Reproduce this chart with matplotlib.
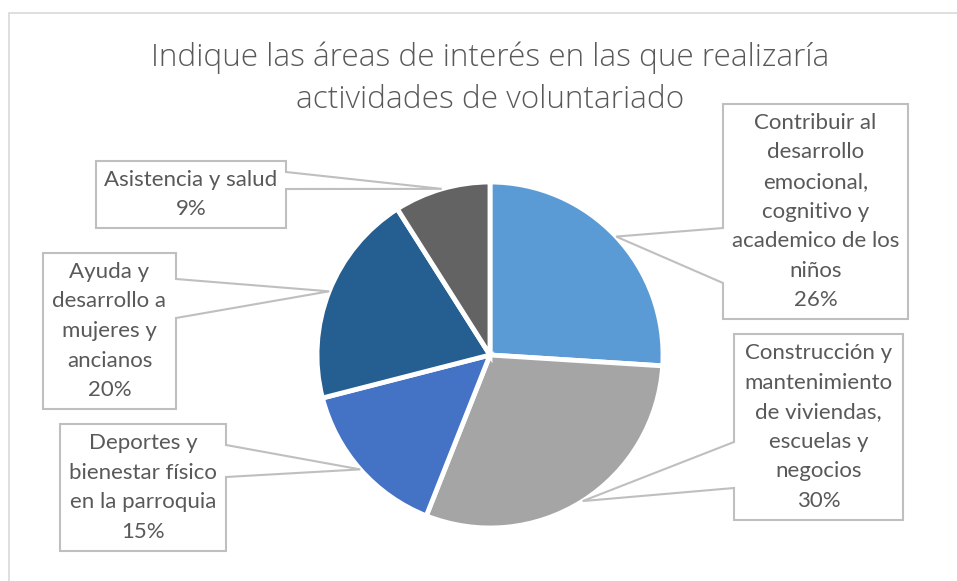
import numpy as np
import matplotlib
matplotlib.use("Agg")
import matplotlib.pyplot as plt
from matplotlib.patches import Polygon, Rectangle

plt.rcParams['font.family'] = ['Lato', 'DejaVu Sans']

# data
labels = [
    "Contribuir al\ndesarrollo\nemocional,\ncognitivo y\nacademico de los\nniños",
    "Construcción y\nmantenimiento\nde viviendas,\nescuelas y\nnegocios",
    "Deportes y\nbienestar físico\nen la parroquia",
    "Ayuda y\ndesarrollo a\nmujeres y\nancianos",
    "Asistencia y salud",
]
values = [26, 30, 15, 20, 9]
colors = ["#5B9BD5", "#A5A5A5", "#4472C4", "#255E91", "#636363"]

title = "Indique las áreas de interés en las que realizaría\nactividades de voluntariado"

# callout boxes in pixel coords: x0, y0 (top), x1, y1 (bottom), side, attach y's
boxes = [
    (723, 104, 908, 319, "left", 228, 283),
    (734, 334, 903, 520, "left", 442, 488),
    (60, 424, 226, 551, "right", 445, 477),
    (43, 253, 176, 409, "right", 279, 318),
    (96, 161, 286, 228, "right", 172, 189),
]

W, H = 957, 581
TXT = "#595959"
LINE = "#BFBFBF"


def Y(y):
    return H - y


fig = plt.figure(figsize=(W / 100, H / 100), dpi=100)
ax = fig.add_axes([0, 0, 1, 1])

cx, cy, r = 490, 355, 173
wedges, _ = ax.pie(values, colors=colors, startangle=90, counterclock=False,
                   center=(cx, Y(cy)), radius=r,
                   wedgeprops=dict(edgecolor="white", linewidth=3.5))

ax.set_xlim(0, W)
ax.set_ylim(0, H)
ax.set_aspect("equal")
ax.axis("off")

# chart frame
ax.add_patch(Rectangle((9, Y(H + 20)), W + 20, H + 20 - 13, fill=False,
                       edgecolor="#D9D9D9", linewidth=1.2, zorder=0))

ax.text(490, Y(79), title, ha="center", va="center", fontsize=22.7,
        color=TXT, family=["Open Sans", "DejaVu Sans"], fontweight="light",
        linespacing=1.42)

for w, lab, v, b in zip(wedges, labels, values, boxes):
    x0, y0, x1, y1, side, ya, yb = b
    mid = np.deg2rad((w.theta1 + w.theta2) / 2)
    tx = cx + r * np.cos(mid)
    ty = Y(cy) + r * np.sin(mid)
    if side == "left":
        pts = [(x0, Y(y0)), (x1, Y(y0)), (x1, Y(y1)), (x0, Y(y1)),
               (x0, Y(yb)), (tx, ty), (x0, Y(ya))]
    else:
        pts = [(x0, Y(y0)), (x1, Y(y0)), (x1, Y(ya)), (tx, ty),
               (x1, Y(yb)), (x1, Y(y1)), (x0, Y(y1))]
    ax.add_patch(Polygon(pts, closed=True, facecolor="white",
                         edgecolor=LINE, linewidth=1.5, zorder=3))
    ax.text((x0 + x1) / 2, Y((y0 + y1) / 2), f"{lab}\n{v}%", ha="center",
            va="center", fontsize=16, color=TXT, linespacing=1.6, zorder=4)

fig.savefig("out.png", dpi=100)
